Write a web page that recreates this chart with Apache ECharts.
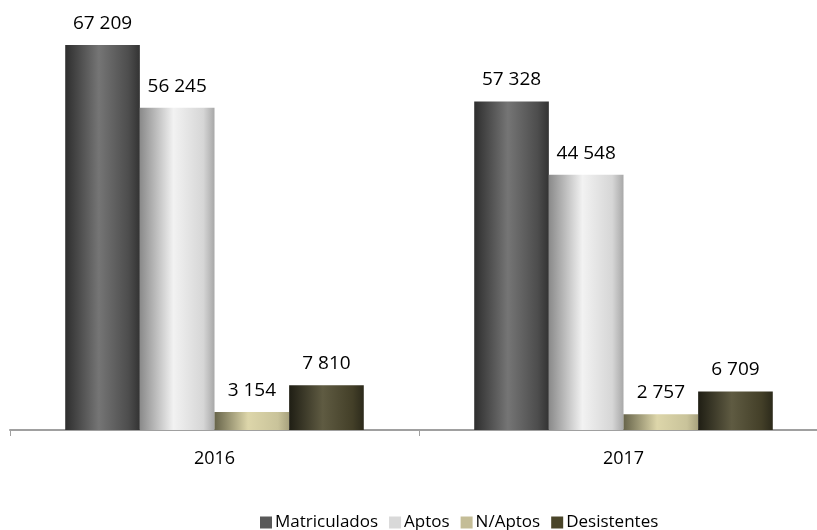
<!DOCTYPE html>
<html>
<head>
<meta charset="utf-8">
<script src="https://cdn.jsdelivr.net/npm/echarts@6/dist/echarts.min.js"></script>
<style>html,body{margin:0;padding:0;background:#fff}#c{width:817px;height:530px}</style>
</head>
<body>
<div id="c"></div>
<script>
var categories = ['2016', '2017'];
var seriesNames = ['Matriculados', 'Aptos', 'N/Aptos', 'Desistentes'];
var matriculados = [67209, 57328];
var aptos = [56245, 44548];
var nAptos = [3154, 2757];
var desistentes = [7810, 6709];

var FONT = '"Open Sans", sans-serif';
function grad(stops) {
  return new echarts.graphic.LinearGradient(0, 0, 1, 0, stops.map(function (s) { return { offset: s[0], color: s[1] }; }));
}
var fills = [
  grad([[0, '#2e2e2e'], [0.45, '#757575'], [0.85, '#4d4d4d'], [1, '#333333']]),
  grad([[0, '#8a8a8a'], [0.45, '#f2f2f2'], [0.85, '#d6d6d6'], [1, '#a8a8a8']]),
  grad([[0, '#67644a'], [0.45, '#ddd6aa'], [0.85, '#c9c39a'], [1, '#a8a27e']]),
  grad([[0, '#1f1e14'], [0.45, '#5f5b42'], [0.85, '#433f28'], [1, '#2c2a1b']])
];
var legendColors = ['#595959', '#d9d9d9', '#c4bd97', '#4a4529'];
var values = [matriculados, aptos, nAptos, desistentes];

function fmt(v) { return String(v).replace(/\B(?=(\d{3})+(?!\d))/g, ' '); }

var chart = echarts.init(document.getElementById('c'));
chart.setOption({
  animation: false,
  textStyle: { fontFamily: FONT },
  grid: { left: 10, top: 29, width: 818, height: 401, outerBoundsMode: 'none', containLabel: false },
  legend: {
    top: 509,
    left: 255,
    itemWidth: 12,
    itemHeight: 12,
    itemGap: 11,
    icon: 'rect',
    textStyle: { fontFamily: FONT, fontSize: 17, color: '#000', padding: [0, 0, 0, -2] },
    data: seriesNames.map(function (n, i) { return { name: n, itemStyle: { color: legendColors[i] } }; })
  },
  xAxis: {
    type: 'category',
    data: categories,
    axisLine: { lineStyle: { color: '#a0a0a0', width: 2 } },
    axisTick: { show: true, length: 6, lineStyle: { color: '#a0a0a0', width: 1 } },
    axisLabel: { fontFamily: FONT, fontSize: 18, color: '#000', margin: 20 }
  },
  yAxis: {
    type: 'value', min: 0, max: 70000, show: false,
    splitLine: { show: false }
  },
  series: seriesNames.map(function (n, i) {
    return {
      name: n,
      type: 'bar',
      data: values[i],
      barGap: '0%',
      barCategoryGap: '27%',
      itemStyle: { color: fills[i] },
      label: {
        show: true, position: 'top', distance: 12,
        fontFamily: FONT, fontSize: 19, color: '#000',
        formatter: function (p) { return fmt(p.value); }
      }
    };
  })
});
</script>
</body>
</html>
